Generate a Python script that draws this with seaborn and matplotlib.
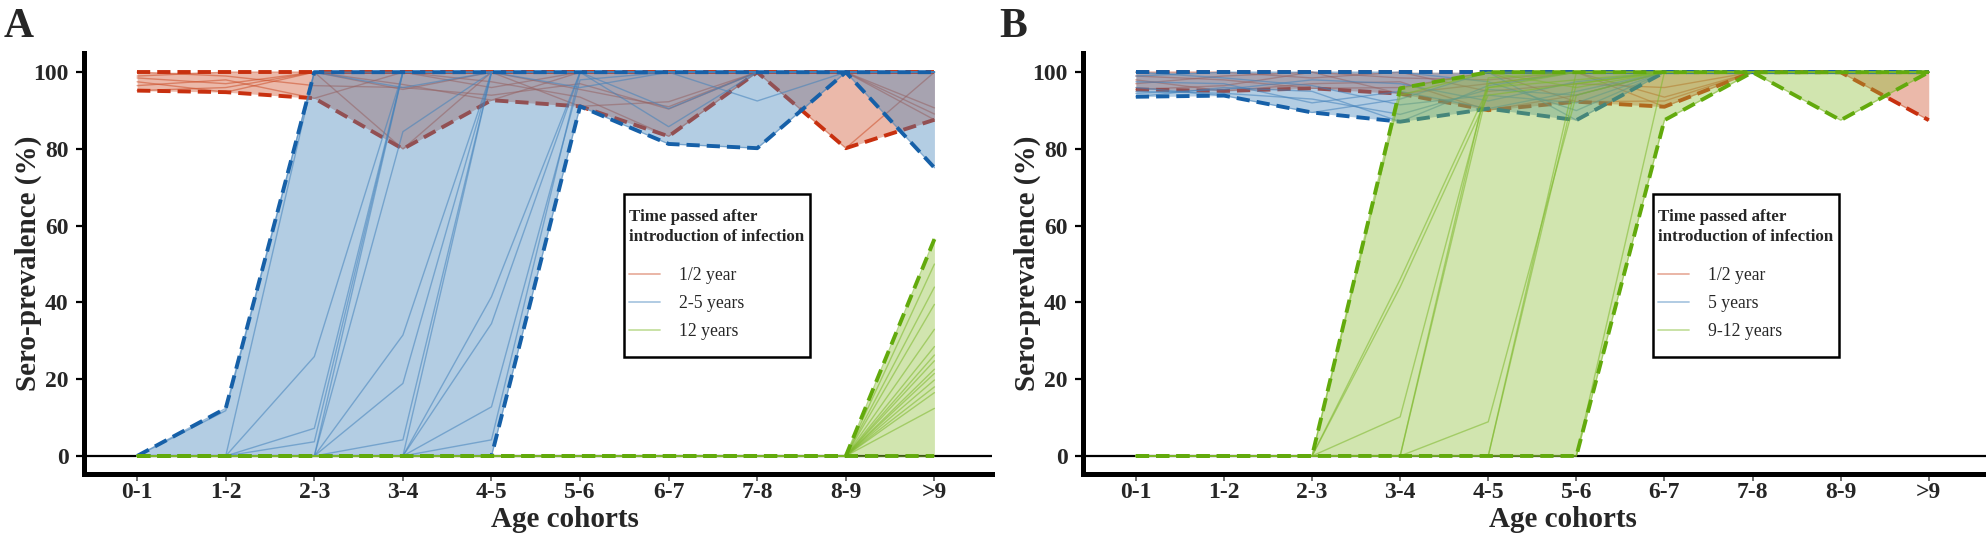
import numpy as np
import pandas as pd
import matplotlib
matplotlib.use("Agg")
import matplotlib.pyplot as plt
from matplotlib.lines import Line2D
from matplotlib.patches import Rectangle
import seaborn as sns

# ---------------- data ----------------
cohorts = ["0-1", "1-2", "2-3", "3-4", "4-5", "5-6", "6-7", "7-8", "8-9", ">9"]
yticks = [0, 20, 40, 60, 80, 100]
legend_title = "Time passed after\nintroduction of infection"
A_labels = ["1/2 year", "2-5 years", "12 years"]
B_labels = ["1/2 year", "5 years", "9-12 years"]

# Panel A, 1/2 year after introduction (one row per simulation)
A_half_year = [
    [95.2, 96.0, 100, 96.8, 92.7, 100, 100, 100, 100, 89.1],
    [97.5, 94.8, 100, 95.5, 100, 91.1, 92.3, 100, 100, 100],
    [96.5, 98.0, 93.2, 100, 97.5, 93.5, 83.3, 100, 100, 90.7],
    [98.5, 97.0, 100, 80.0, 100, 95.5, 91.0, 100, 80.2, 100],
    [100, 99.0, 96.5, 96.0, 94.0, 97.0, 90.4, 100, 100, 87.6],
    [99.0, 100, 100, 100, 96.0, 100, 100, 100, 100, 100],
]
# Panel A, 2-5 years
A_2_5_years = [
    [0, 12.4, 100, 100, 100, 100, 100, 100, 100, 100],
    [0, 11.8, 100, 96.0, 100, 100, 90.5, 100, 100, 100],
    [0, 0, 3.7, 100, 100, 100, 100, 92.5, 100, 100],
    [0, 0, 7.2, 100, 100, 100, 85.8, 100, 100, 100],
    [0, 0, 25.9, 100, 100, 96.0, 100, 100, 100, 100],
    [0, 0, 100, 100, 100, 100, 100, 100, 100, 100],
    [0, 0, 0, 4.2, 100, 100, 100, 100, 100, 100],
    [0, 0, 0, 18.9, 100, 100, 100, 100, 100, 100],
    [0, 0, 0, 31.5, 100, 100, 100, 100, 100, 100],
    [0, 0, 0, 84.5, 100, 100, 100, 100, 100, 100],
    [0, 0, 0, 100, 100, 100, 100, 100, 100, 100],
    [0, 0, 0, 0, 4.2, 100, 100, 100, 100, 100],
    [0, 0, 0, 0, 12.8, 98.0, 100, 100, 100, 100],
    [0, 0, 0, 0, 34.5, 100, 100, 100, 100, 100],
    [0, 0, 0, 0, 41.5, 100, 100, 100, 100, 100],
    [0, 0, 0, 0, 100, 100, 100, 100, 100, 100],
    [0, 0, 0, 0, 0, 91.1, 81.3, 80.2, 100, 75.1],
]
# Panel A, 12 years
A_12_years = [
    [0, 0, 0, 0, 0, 0, 0, 0, 0, 56.5],
    [0, 0, 0, 0, 0, 0, 0, 0, 0, 50.0],
    [0, 0, 0, 0, 0, 0, 0, 0, 0, 44.0],
    [0, 0, 0, 0, 0, 0, 0, 0, 0, 39.5],
    [0, 0, 0, 0, 0, 0, 0, 0, 0, 33.0],
    [0, 0, 0, 0, 0, 0, 0, 0, 0, 28.5],
    [0, 0, 0, 0, 0, 0, 0, 0, 0, 26.3],
    [0, 0, 0, 0, 0, 0, 0, 0, 0, 24.8],
    [0, 0, 0, 0, 0, 0, 0, 0, 0, 22.6],
    [0, 0, 0, 0, 0, 0, 0, 0, 0, 21.5],
    [0, 0, 0, 0, 0, 0, 0, 0, 0, 19.8],
    [0, 0, 0, 0, 0, 0, 0, 0, 0, 18.0],
    [0, 0, 0, 0, 0, 0, 0, 0, 0, 16.5],
    [0, 0, 0, 0, 0, 0, 0, 0, 0, 12.4],
    [0, 0, 0, 0, 0, 0, 0, 0, 0, 0],
]
# Panel B, 1/2 year
B_half_year = [
    [95.5, 96.5, 100, 94.4, 97.0, 100, 91.0, 100, 100, 87.5],
    [98.0, 95.1, 97.0, 97.5, 90.1, 94.0, 100, 100, 100, 100],
    [99.0, 98.0, 95.8, 96.0, 100, 92.3, 92.5, 100, 100, 100],
    [100, 100, 98.5, 100, 95.0, 97.0, 96.0, 100, 100, 100],
    [97.0, 99.0, 100, 98.5, 98.0, 100, 93.5, 100, 100, 100],
]
# Panel B, 5 years
B_5_years = [
    [93.6, 96.0, 95.0, 87.1, 96.5, 100, 100, 100, 100, 100],
    [96.0, 93.9, 89.5, 93.0, 100, 87.5, 100, 100, 100, 100],
    [97.5, 97.0, 92.0, 95.0, 90.5, 95.0, 100, 100, 100, 100],
    [100, 98.5, 96.5, 91.5, 94.0, 92.0, 100, 100, 100, 100],
    [94.5, 95.5, 98.0, 97.0, 92.5, 97.5, 100, 100, 100, 100],
    [99.0, 100, 100, 100, 97.5, 90.0, 100, 100, 100, 100],
    [95.0, 94.5, 93.0, 89.0, 95.5, 94.0, 100, 100, 100, 100],
]
# Panel B, 9-12 years
B_9_12_years = [
    [0, 0, 0, 95.8, 100, 100, 100, 100, 100, 100],
    [0, 0, 0, 10.2, 97.0, 100, 100, 100, 100, 100],
    [0, 0, 0, 46.0, 96.0, 100, 100, 100, 100, 100],
    [0, 0, 0, 44.0, 94.0, 97.0, 100, 100, 100, 100],
    [0, 0, 0, 94.0, 100, 96.0, 100, 100, 87.5, 100],
    [0, 0, 0, 0, 8.9, 94.0, 100, 100, 100, 100],
    [0, 0, 0, 0, 96.0, 98.0, 100, 100, 100, 100],
    [0, 0, 0, 0, 98.5, 100, 100, 100, 100, 100],
    [0, 0, 0, 0, 0, 100, 100, 100, 100, 100],
    [0, 0, 0, 0, 0, 97.0, 100, 100, 100, 100],
    [0, 0, 0, 0, 0, 0, 100, 100, 100, 100],
    [0, 0, 0, 0, 0, 0, 87.5, 100, 100, 100],
]

# ---------------- style ----------------
RED = dict(fill="#CD502B", line="#CD502B", dash="#C8300F")
BLUE = dict(fill="#4382BB", line="#4382BB", dash="#1660A8")
GREEN = dict(fill="#8EC037", line="#7DB82A", dash="#62AA0C")
SERIF = ["Liberation Serif", "DejaVu Serif"]

sns.set_theme(style="white")
plt.rcParams["font.family"] = SERIF

fig = plt.figure(figsize=(19.86, 5.41), dpi=100)
axA = fig.add_axes([84 / 1986, 67 / 541, 908 / 1986, 421 / 541])
axB = fig.add_axes([1083 / 1986, 67 / 541, 903 / 1986, 421 / 541])

xpos = {c: i for i, c in enumerate(cohorts)}


def draw_group(ax, sims, st):
    df = pd.DataFrame(sims, columns=cohorts)
    df["sim"] = range(len(df))
    long = df.melt(id_vars="sim", var_name="cohort", value_name="value")
    long["x"] = long["cohort"].map(xpos)
    env = long.groupby("x")["value"].agg(["min", "max"]).reset_index()
    ax.fill_between(env["x"], env["min"], env["max"], color=st["fill"],
                    alpha=0.4, lw=0, zorder=2)
    sns.lineplot(data=long, x="x", y="value", units="sim", estimator=None,
                 color=st["line"], alpha=0.55, lw=1.0, ax=ax, legend=False,
                 zorder=2)
    for col in ["min", "max"]:
        sns.lineplot(data=env, x="x", y=col, color=st["dash"], lw=2.8,
                     linestyle=(0, (3.4, 1.8)), ax=ax, legend=False, zorder=2)


def style_axes(ax, labels, box, xlab_x):
    ax.axhline(0, color="black", lw=1.6, zorder=1)
    ax.set_xlim(-0.6, 9.65)
    ax.set_ylim(-4.7, 105)
    ax.set_xticks(range(len(cohorts)))
    ax.set_xticklabels(cohorts, fontsize=17, fontweight="bold", family=SERIF)
    ax.set_yticks(yticks)
    ax.set_yticklabels([str(v) for v in yticks], fontsize=17,
                       fontweight="bold", family=SERIF)
    ax.tick_params(axis="x", length=5, width=1.2, color="#555555", pad=1,
                   bottom=True)
    ax.tick_params(axis="y", length=6, width=1.6, color="black", pad=5,
                   left=True)
    for s in ["top", "right"]:
        ax.spines[s].set_visible(False)
    for s in ["left", "bottom"]:
        ax.spines[s].set_linewidth(3.6)
        ax.spines[s].set_color("black")
    ax.set_xlabel("Age cohorts", fontsize=21, fontweight="bold", family=SERIF,
                  va="center")
    ax.xaxis.set_label_coords(xlab_x, -0.107)
    ax.set_ylabel("Sero-prevalence (%)", fontsize=21, fontweight="bold",
                  family=SERIF)
    ax.yaxis.set_label_coords(-0.046, 0.5)

    # legend: frame drawn as a rectangle, entries via matplotlib legend
    x0, x1, y0, y1 = box
    ax.add_patch(Rectangle((x0, y0), x1 - x0, y1 - y0, transform=ax.transAxes,
                           facecolor="white", edgecolor="black", lw=1.8,
                           zorder=5))
    handles = [Line2D([], [], color=st["line"], alpha=0.45, lw=1.3)
               for st in (RED, BLUE, GREEN)]
    leg = ax.legend(handles, labels, title=legend_title, loc="upper left",
                    bbox_to_anchor=(x0 + 5 / 908, y1 - 15 / 421),
                    frameon=False, fontsize=12.7,
                    title_fontproperties={"weight": "bold", "size": 12.2,
                                          "family": SERIF},
                    prop={"family": SERIF, "size": 12.7},
                    handlelength=1.75, handletextpad=1.1, labelspacing=0.63,
                    borderpad=0, alignment="left", borderaxespad=0)
    leg.set_zorder(6)
    leg.get_title().set_linespacing(1.3)
    leg._legend_box.sep = 16
    ax.grid(False)


for ax, groups in ((axA, (A_half_year, A_2_5_years, A_12_years)),
                   (axB, (B_half_year, B_5_years, B_9_12_years))):
    for sims, st in zip(groups, (RED, BLUE, GREEN)):
        draw_group(ax, sims, st)

style_axes(axA, A_labels, (0.5947, 0.7996, 0.278, 0.665), 0.53)
style_axes(axB, B_labels, (0.631, 0.837, 0.278, 0.665), 0.532)

fig.text(0.002, 0.985, "A", fontsize=30, fontweight="bold", va="top",
         ha="left", family=SERIF)
fig.text(0.503, 0.985, "B", fontsize=30, fontweight="bold", va="top",
         ha="left", family=SERIF)

fig.savefig("out.png", dpi=100)
